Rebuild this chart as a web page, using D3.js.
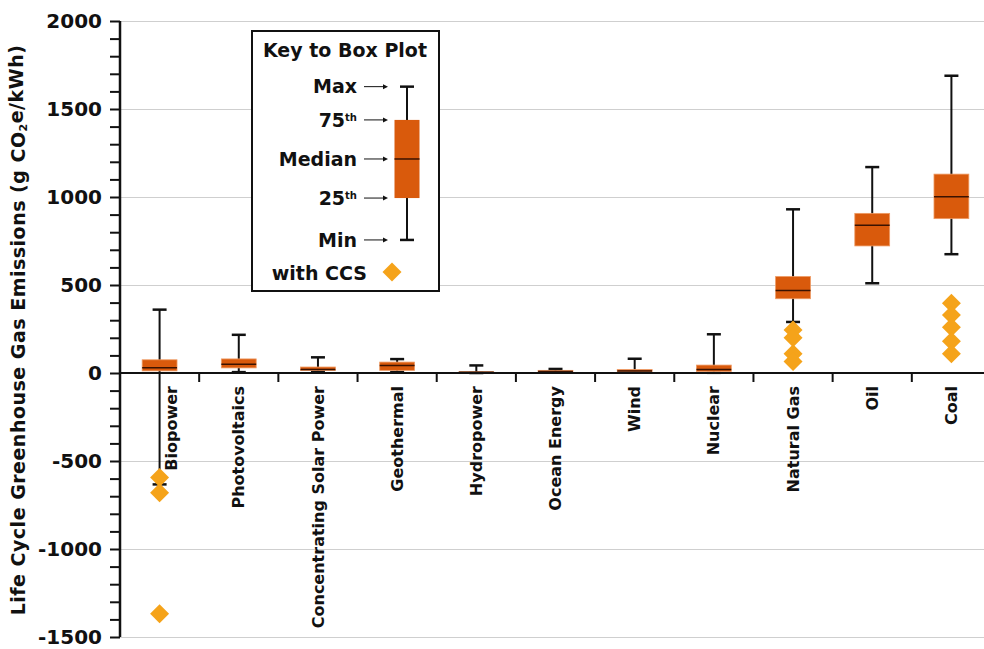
<!DOCTYPE html>
<html>
<head>
<meta charset="utf-8">
<script src="https://cdn.jsdelivr.net/npm/d3@7"></script>
<style>
    body { margin: 0; background: #fff; }
    svg { display: block; }
    text { font-family: "DejaVu Sans", sans-serif; font-weight: bold; fill: #111; }
</style>
</head>
<body>
<div id="chart"></div>
<script>
// Life cycle GHG emissions box plots by technology

const categories = ['Biopower', 'Photovoltaics', 'Concentrating Solar Power', 'Geothermal',
    'Hydropower', 'Ocean Energy', 'Wind', 'Nuclear', 'Natural Gas', 'Oil', 'Coal'];
const minVals = [-633, 5, 7, 6, 0, 2, 2, 1, 290, 510, 675];
const q1Vals = [12, 29, 14, 15, 3, 6, 8, 8, 422, 722, 877];
const medianVals = [30, 50, 20, 42, 4, 8, 12, 20, 469, 840, 1001];
const q3Vals = [75, 80, 34, 62, 7, 15, 20, 45, 548, 907, 1130];
const maxVals = [360, 217, 89, 79, 43, 23, 81, 220, 930, 1170, 1689];
const ccsVals = [[-594, -680, -1368], [], [], [], [], [], [], [], [245, 200, 110, 65], [], [396, 330, 260, 180, 110]];

const yTicks = [-1500, -1000, -500, 0, 500, 1000, 1500, 2000];

// values used to draw the key illustration against the main y scale
const keyLabels = ['Max', '75', 'Median', '25', 'Min'];
const keyStats = [1627, 1438, 1216, 994, 756];

const boxColor = '#d95a0c';
const ccsColor = '#f5a31a';

function createBoxChart(containerId) {
    const W = 984, H = 649;
    const left = 120, right = 991, top = 21, bottom = 637;

    d3.select(`#${containerId}`).selectAll('*').remove();

    const svg = d3.select(`#${containerId}`)
        .append('svg')
        .attr('width', W)
        .attr('height', H);

    const x = d3.scaleBand()
        .domain(categories)
        .range([left, right])
        .padding(0);

    const y = d3.scaleLinear()
        .domain([-1500, 2000])
        .range([bottom, top]);

    const bw = x.bandwidth();
    const boxW = bw * 0.44;
    const capW = 14;

    // Grid lines
    svg.append('g')
        .attr('class', 'grid')
        .attr('transform', `translate(${left},0)`)
        .call(d3.axisLeft(y)
            .tickValues(yTicks)
            .tickSize(-(W - left))
            .tickFormat(''))
        .call(g => g.select('.domain').remove())
        .call(g => g.selectAll('line').style('stroke', '#cfcfcf').style('stroke-width', 1));

    const stats = categories.map((c, i) => ({
        cat: c, min: minVals[i], q1: q1Vals[i], median: medianVals[i],
        q3: q3Vals[i], max: maxVals[i], ccs: ccsVals[i]
    }));

    const groups = svg.selectAll('.box')
        .data(stats)
        .enter()
        .append('g')
        .attr('class', 'box')
        .attr('transform', d => `translate(${x(d.cat) + bw / 2},0)`);

    // Whisker
    groups.append('line')
        .attr('y1', d => y(d.min))
        .attr('y2', d => y(d.max))
        .style('stroke', '#111')
        .style('stroke-width', 2);

    // Caps
    groups.selectAll('.cap')
        .data(d => [d.min, d.max])
        .enter()
        .append('line')
        .attr('x1', -capW / 2)
        .attr('x2', capW / 2)
        .attr('y1', v => y(v))
        .attr('y2', v => y(v))
        .style('stroke', '#111')
        .style('stroke-width', 2.5);

    // Box
    groups.append('rect')
        .attr('x', -boxW / 2)
        .attr('width', boxW)
        .attr('y', d => y(d.q3))
        .attr('height', d => Math.max(1.5, y(d.q1) - y(d.q3)))
        .style('fill', boxColor)
        .style('stroke', '#ee9a63')
        .style('stroke-width', 0.8);

    // Median
    groups.append('line')
        .attr('x1', -boxW / 2)
        .attr('x2', boxW / 2)
        .attr('y1', d => y(d.median))
        .attr('y2', d => y(d.median))
        .style('stroke', '#3a1200')
        .style('stroke-width', 1.5);

    // x axis line with ticks between categories
    svg.append('line')
        .attr('x1', left)
        .attr('x2', W)
        .attr('y1', y(0))
        .attr('y2', y(0))
        .style('stroke', '#111')
        .style('stroke-width', 2);

    svg.selectAll('.xtick')
        .data(categories.slice(1))
        .enter()
        .append('line')
        .attr('x1', d => x(d))
        .attr('x2', d => x(d))
        .attr('y1', y(0))
        .attr('y2', y(0) + 9)
        .style('stroke', '#111')
        .style('stroke-width', 2);

    // Category labels, rotated
    svg.selectAll('.xlabel')
        .data(categories)
        .enter()
        .append('text')
        .attr('transform', (d, i) => `translate(${x(d) + bw / 2 + (i === 0 ? 12 : 0)},${y(0) + 13}) rotate(-90)`)
        .attr('dy', '0.35em')
        .style('text-anchor', 'end')
        .style('font-size', '16px')
        .text(d => d);

    // CCS diamonds
    groups.selectAll('.ccs')
        .data(d => d.ccs)
        .enter()
        .append('path')
        .attr('d', d3.symbol().type(d3.symbolSquare).size(180))
        .attr('transform', v => `translate(0,${y(v)}) rotate(45)`)
        .style('fill', ccsColor);

    // y axis
    const yAxis = svg.append('g')
        .attr('transform', `translate(${left},0)`)
        .call(d3.axisLeft(y)
            .tickValues(d3.range(-1500, 2001, 100))
            .tickSize(10)
            .tickPadding(8)
            .tickFormat(d => d % 500 === 0 ? String(d) : ''));

    yAxis.select('.domain')
        .style('stroke', '#111')
        .style('stroke-width', 2.5)
        .attr('d', `M0,${bottom}V${top}`);
    yAxis.selectAll('.tick line')
        .style('stroke', '#111')
        .style('stroke-width', 2);
    yAxis.selectAll('.tick text')
        .style('font-family', '"DejaVu Sans", sans-serif')
        .style('font-weight', 'bold')
        .style('font-size', '20px')
        .style('fill', '#111');

    // y axis title
    const yTitle = svg.append('text')
        .attr('transform', `translate(18,${(top + bottom) / 2 + 1}) rotate(-90)`)
        .attr('dy', '0.35em')
        .style('text-anchor', 'middle')
        .style('font-size', '19px')
        .style('letter-spacing', '0.5px');
    yTitle.append('tspan').text('Life Cycle Greenhouse Gas Emissions (g CO');
    yTitle.append('tspan').attr('dy', '0.25em').style('font-size', '11px').text('2');
    yTitle.append('tspan').attr('dy', '-0.25em').text('e/kWh)');

    // Key to box plot
    const key = svg.append('g').attr('class', 'key');
    key.append('rect')
        .attr('x', 252)
        .attr('y', 31)
        .attr('width', 187)
        .attr('height', 260)
        .style('fill', '#fff')
        .style('stroke', '#111')
        .style('stroke-width', 2);

    key.append('text')
        .attr('x', 345)
        .attr('y', 57)
        .style('text-anchor', 'middle')
        .style('font-size', '19px')
        .text('Key to Box Plot');

    const kx = 407;
    const kBoxW = 25;
    key.append('line')
        .attr('x1', kx).attr('x2', kx)
        .attr('y1', y(keyStats[0])).attr('y2', y(keyStats[4]))
        .style('stroke', '#111').style('stroke-width', 2);
    key.selectAll('.kcap')
        .data([keyStats[0], keyStats[4]])
        .enter()
        .append('line')
        .attr('x1', kx - capW / 2).attr('x2', kx + capW / 2)
        .attr('y1', v => y(v)).attr('y2', v => y(v))
        .style('stroke', '#111').style('stroke-width', 2.5);
    key.append('rect')
        .attr('x', kx - kBoxW / 2)
        .attr('width', kBoxW)
        .attr('y', y(keyStats[1]))
        .attr('height', y(keyStats[3]) - y(keyStats[1]))
        .style('fill', boxColor);
    key.append('line')
        .attr('x1', kx - kBoxW / 2).attr('x2', kx + kBoxW / 2)
        .attr('y1', y(keyStats[2])).attr('y2', y(keyStats[2]))
        .style('stroke', '#3a1200').style('stroke-width', 1.5);

    const keyRows = key.selectAll('.krow')
        .data(keyLabels.map((l, i) => ({ label: l, v: keyStats[i] })))
        .enter()
        .append('g')
        .attr('transform', d => `translate(0,${y(d.v)})`);

    const kt = keyRows.append('text')
        .attr('x', 357)
        .attr('dy', '0.35em')
        .style('text-anchor', 'end')
        .style('font-size', '19px');
    kt.append('tspan').text(d => d.label);
    kt.filter(d => d.label === '75' || d.label === '25')
        .append('tspan')
        .attr('dy', '-0.6em')
        .style('font-size', '10px')
        .text('th');

    keyRows.append('line')
        .attr('x1', 364).attr('x2', 384)
        .style('stroke', '#111').style('stroke-width', 1);
    keyRows.append('path')
        .attr('d', 'M383,-2.5L388,0L383,2.5Z')
        .style('fill', '#111');

    key.append('text')
        .attr('x', 367)
        .attr('y', 273)
        .attr('dy', '0.35em')
        .style('text-anchor', 'end')
        .style('font-size', '19px')
        .text('with CCS');
    key.append('path')
        .attr('d', d3.symbol().type(d3.symbolSquare).size(180))
        .attr('transform', 'translate(392,272) rotate(45)')
        .style('fill', ccsColor);
}

createBoxChart('chart');
</script>
</body>
</html>
